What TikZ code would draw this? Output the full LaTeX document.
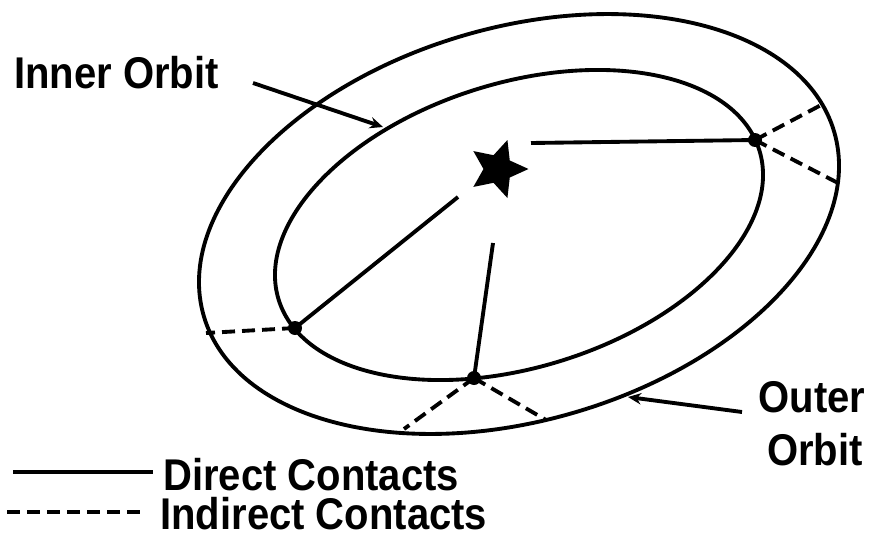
\documentclass[tikz,border=0pt]{standalone}
\usepackage{fontspec}
\usepackage{graphicx}
\setmainfont{Liberation Sans}
\usetikzlibrary{shapes.geometric,arrows.meta}
\newcommand{\lbl}[1]{\scalebox{0.9}[1]{\fontsize{25.3}{30}\selectfont\bfseries #1}}
\tikzset{
  orbit/.style={line width=2.2pt},
  direct/.style={line width=2.2pt},
  indirect/.style={line width=2.2pt, dash pattern=on 7.4pt off 4pt},
  contact/.style={circle, fill=black, inner sep=0pt, minimum size=0.28cm},
  pointer/.style={line width=2.2pt, -{Stealth[length=7.5pt,width=6.5pt]}},
  label/.style={inner sep=0pt, anchor=base west},
}
\begin{document}
\begin{tikzpicture}[x=0.02cm, y=-0.02cm]
\useasboundingbox (0,0) rectangle (871,534);
% outer orbit
\draw[orbit, rotate around={16.3:(519,224)}] (519,224) ellipse [x radius=328.4, y radius=196.5];
% inner orbit
\draw[orbit, rotate around={17.3:(519,225)}] (519,225) ellipse [x radius=251.7, y radius=142.2];
% star
\node[star, star points=5, star point ratio=2.1, fill=black, inner sep=0pt,
      minimum size=1.22cm, rotate=-18] (sun) at (498,169) {};
% contacts
\node[contact] (c1) at (755,140) {};
\node[contact] (c2) at (295,328) {};
\node[contact] (c3) at (474,378) {};
% direct contacts
\coordinate (s1) at (531,143);
\coordinate (s2) at (458,197);
\coordinate (s3) at (493,243);
\draw[direct] (s1) -- (c1.center);
\draw[direct] (s2) -- (c2.center);
\draw[direct] (s3) -- (c3.center);
% indirect contacts
\coordinate (e1) at (823,104);
\coordinate (e2) at (838,183);
\coordinate (e3) at (206,333);
\coordinate (e4) at (404,429);
\coordinate (e5) at (546,420);
\draw[indirect] (c1.center) -- (e1);
\draw[indirect] (c1.center) -- (e2);
\draw[indirect] (c2.center) -- (e3);
\draw[indirect] (c3.center) -- (e4);
\draw[indirect] (c3.center) -- (e5);
% labels
\node[label] (inner) at (14,88) {\lbl{Inner Orbit}};
\coordinate (ia) at (253,83);
\coordinate (ib) at (383,127);
\draw[pointer] (ia) -- (ib);
\node[inner sep=0pt, anchor=base] (outer1) at (812,412) {\lbl{Outer}};
\node[inner sep=0pt, anchor=base] (outer2) at (815,465) {\lbl{Orbit}};
\coordinate (oa) at (742,412);
\coordinate (ob) at (628,397);
\draw[pointer] (oa) -- (ob);
% legend
\coordinate (l1a) at (13,472);
\coordinate (l1b) at (153,472);
\coordinate (l2a) at (7,512);
\coordinate (l2b) at (147,512);
\draw[direct] (l1a) -- (l1b);
\draw[indirect] (l2a) -- (l2b);
\node[label] (dc) at (163,490) {\lbl{Direct Contacts}};
\node[label] (ic) at (160,529) {\lbl{Indirect Contacts}};
\end{tikzpicture}
\end{document}
